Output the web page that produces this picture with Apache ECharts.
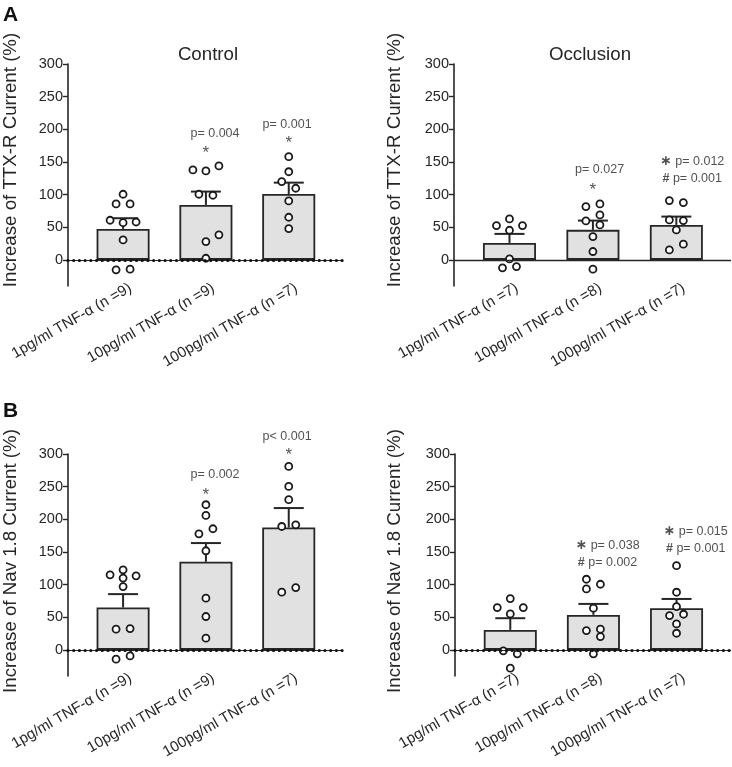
<!DOCTYPE html>
<html>
<head>
<meta charset="utf-8">
<script src="https://cdn.jsdelivr.net/npm/echarts@6/dist/echarts.min.js"></script>
<style>
html,body{margin:0;padding:0;background:#fff;}
#chart{width:732px;height:767px;}
</style>
</head>
<body>
<div id="chart"></div>
<script>
// ---------- data ----------
const catControl = ['1pg/ml TNF-α (n =9)', '10pg/ml TNF-α (n =9)', '100pg/ml TNF-α (n =7)'];
const catOcclusion = ['1pg/ml TNF-α (n =7)', '10pg/ml TNF-α (n =8)', '100pg/ml TNF-α (n =7)'];
const yTicks = [0, 50, 100, 150, 200, 250, 300];

// Panel A (TTX-R current)
const ttxControlMean = [47.4, 84.2, 101];
const ttxControlSem = [16.4, 20.4, 17.3];
const ttxControlPts = [
  [100.5, 85.7, 85.7, 60.7, 57, 58, 30.6, -15.3, -14.3],
  [137.8, 136.2, 143.9, 100.5, 99, 28, 38.3, 2.5],
  [158, 135, 120, 109.7, 90.3, 65.3, 48]
];
const ttxOcclMean = [26, 46, 53.6];
const ttxOcclSem = [13.8, 14.2, 12.7];
const ttxOcclPts = [
  [62.8, 52.5, 52.5, 45.4, 1.5, -12.2, -10.2],
  [81.6, 85.7, 68.9, 59.7, 53.6, 35.7, 12.8, -14.3],
  [90.8, 87.8, 61.2, 60.2, 45.9, 15.3, 24]
];
// Panel B (Nav 1.8 current)
const navControlMean = [64.9, 134.9, 187.5];
const navControlSem = [20.5, 28.7, 29.7];
const navControlPts = [
  [122.6, 115, 113.4, 109.9, 97, 31.7, 32.7, -14.3, -9.2],
  [222.3, 205.9, 177.8, 185.5, 151.8, 79.2, 51.1, 17.9],
  [281, 250.4, 230, 189, 191.6, 88.4, 95.5]
];
const navOcclMean = [30.6, 53.6, 63.8];
const navOcclSem = [17.9, 16.8, 14.2];
const navOcclPts = [
  [78.6, 64.8, 64.8, 55.1, -1.5, -6.1, -28],
  [108.2, 93.4, 100.5, 63.8, 29.5, 31.7, 20.4, -6.1],
  [129, 88.3, 66.3, 52.5, 54.6, 39.8, 25.5]
];

// ---------- layout (pixel jitter of points, annotation placement) ----------
const jitter = {
  ttxControl: [[0,-7,7,-13,0,13,0,-7,7],[-13,0,13,-7,7,0,13,0],[0,0,-7,7,0,0,0]],
  ttxOccl: [[0,-13,13,0,0,-7,7],[-7,7,7,-7,7,0,0,0],[-7,7,-7,7,0,-7,7]],
  navControl: [[0,-13,13,0,0,-7,7,-7,7],[0,0,-7,7,0,0,0,0],[0,0,0,-7,7,-7,7]],
  navOccl: [[0,-13,13,0,-7,7,0],[-7,-7,7,0,-7,7,7,0],[0,0,0,-7,7,0,0]]
};
const FONT = 'Liberation Sans, Arial, Helvetica, sans-serif';
const INK = '#262626';

const panels = [
  { cats: catControl, mean: ttxControlMean, sem: ttxControlSem, pts: ttxControlPts, jit: jitter.ttxControl,
    grid: {left: 68, top: 64, width: 275, height: 222}, dotted: true,
    notes: [
      {x: 2.11, y: 194, t: 'p= 0.004'}, {x: 2.0, y: 163, t: '{a|*}'},
      {x: 2.98, y: 208, t: 'p= 0.001'}, {x: 3.0, y: 179, t: '{a|*}'}
    ]},
  { cats: catOcclusion, mean: ttxOcclMean, sem: ttxOcclSem, pts: ttxOcclPts, jit: jitter.ttxOccl,
    grid: {left: 454, top: 64, width: 277, height: 222}, dotted: false,
    notes: [
      {x: 2.08, y: 138, t: 'p= 0.027'}, {x: 2.0, y: 107, t: '{a|*}'},
      {x: 3.19, y: 150.5, t: '{s|∗} p= 0.012'}, {x: 3.19, y: 125, t: '{h|#} p= 0.001'}
    ]},
  { cats: catControl, mean: navControlMean, sem: navControlSem, pts: navControlPts, jit: jitter.navControl,
    grid: {left: 68, top: 454, width: 275, height: 222}, dotted: true,
    notes: [
      {x: 2.11, y: 268, t: 'p= 0.002'}, {x: 2.0, y: 237, t: '{a|*}'},
      {x: 2.98, y: 326.5, t: 'p< 0.001'}, {x: 3.0, y: 298, t: '{a|*}'}
    ]},
  { cats: catOcclusion, mean: navOcclMean, sem: navOcclSem, pts: navOcclPts, jit: jitter.navOccl,
    grid: {left: 455, top: 454, width: 276, height: 222}, dotted: true,
    notes: [
      {x: 2.17, y: 159.6, t: '{s|∗} p= 0.038'}, {x: 2.17, y: 133.6, t: '{h|#} p= 0.002'},
      {x: 3.23, y: 182, t: '{s|∗} p= 0.015'}, {x: 3.23, y: 155.7, t: '{h|#} p= 0.001'}
    ]}
];

const grids = [], xAxes = [], yAxes = [], series = [];
panels.forEach((p, i) => {
  grids.push(Object.assign({containLabel: false}, p.grid));
  const cats = p.cats;
  xAxes.push({
    type: 'value', gridIndex: i, min: 0.335, max: 3.655,
    axisLine: {show: false, onZero: false}, axisTick: {show: false}, splitLine: {show: false},
    axisLabel: {
      customValues: [1.09, 2.09, 3.09], rotate: 30, margin: 1,
      fontSize: 15, color: INK, fontFamily: FONT,
      formatter: v => cats[Math.round(v) - 1]
    }
  });
  yAxes.push({
    type: 'value', gridIndex: i, min: -40, max: 300,
    axisLine: {show: true, onZero: false, lineStyle: {color: INK, width: 1.6}},
    axisTick: {show: true, customValues: yTicks, length: 5, lineStyle: {color: INK, width: 1.4}},
    axisLabel: {customValues: yTicks, fontSize: 14.5, color: INK, fontFamily: FONT, margin: 5},
    splitLine: {show: false}
  });
  // zero line
  const zeroLines = p.dotted ? [
      {yAxis: 0, lineStyle: {color: INK, width: 1, type: 'solid'}},
      {yAxis: 0, lineStyle: {color: '#111', width: 3.2, type: [0.01, 5.7], cap: 'round'}}
    ] : [
      {yAxis: 0, lineStyle: {color: INK, width: 1.4, type: 'solid'}}
    ];
  series.push({
    type: 'line', xAxisIndex: i, yAxisIndex: i, data: [], z: 1, silent: true,
    markLine: {symbol: ['none', 'none'], silent: true, animation: false, label: {show: false}, data: zeroLines}
  });
  // bars
  series.push({
    type: 'bar', xAxisIndex: i, yAxisIndex: i, barWidth: 53, z: 2,
    data: p.mean.map((m, k) => [k + 1, m]),
    itemStyle: {color: '#e1e1e1', borderColor: INK, borderWidth: 1.8}
  });
  // error bars
  series.push({
    type: 'custom', xAxisIndex: i, yAxisIndex: i, z: 3,
    data: p.mean.map((m, k) => [k + 1, m, p.sem[k]]),
    encode: {x: 0, y: 1},
    renderItem: (params, api) => {
      const x = api.value(0), m = api.value(1), s = api.value(2);
      const b = api.coord([x, m]), t = api.coord([x, m + s]);
      const st = {stroke: INK, lineWidth: 2};
      return {type: 'group', children: [
        {type: 'line', shape: {x1: b[0], y1: b[1], x2: t[0], y2: t[1]}, style: st},
        {type: 'line', shape: {x1: t[0] - 15, y1: t[1], x2: t[0] + 15, y2: t[1]}, style: st}
      ]};
    }
  });
  // individual points
  const pts = [];
  p.pts.forEach((arr, k) => arr.forEach((v, j) => {
    pts.push({value: [k + 1, v], symbolOffset: [p.jit[k][j] || 0, 0]});
  }));
  series.push({
    type: 'scatter', xAxisIndex: i, yAxisIndex: i, z: 4, clip: false,
    symbol: 'circle', symbolSize: 7,
    itemStyle: {color: '#fff', borderColor: '#1a1a1a', borderWidth: 1.8, opacity: 1},
    data: pts
  });
  // annotations
  series.push({
    type: 'scatter', xAxisIndex: i, yAxisIndex: i, z: 5, clip: false, silent: true,
    symbolSize: 0, itemStyle: {color: 'transparent'},
    label: {
      show: true, position: 'inside', align: 'center', verticalAlign: 'middle',
      fontSize: 12.5, color: INK, fontFamily: FONT,
      formatter: d => d.data.t,
      rich: {
        a: {fontSize: 17, color: INK, fontFamily: FONT},
        s: {fontSize: 14, color: INK, fontWeight: 'bold', fontFamily: 'DejaVu Sans'},
        h: {fontSize: 12.5, color: INK, fontWeight: 'bold', fontFamily: FONT}
      }
    },
    data: p.notes.map(n => ({value: [n.x, n.y], t: n.t}))
  });
});

const titleStyle = {fontSize: 18.7, fill: INK, fontFamily: FONT, align: 'center', verticalAlign: 'middle'};
const graphic = [
  {type: 'text', x: 3, y: 15, style: {text: 'A', fontSize: 21, fontWeight: 'bold', fill: '#111', fontFamily: FONT, verticalAlign: 'middle'}},
  {type: 'text', x: 3, y: 411, style: {text: 'B', fontSize: 21, fontWeight: 'bold', fill: '#111', fontFamily: FONT, verticalAlign: 'middle'}},
  {type: 'text', x: 208, y: 55, style: Object.assign({text: 'Control'}, titleStyle)},
  {type: 'text', x: 590, y: 55, style: Object.assign({text: 'Occlusion'}, titleStyle)},
  {type: 'text', x: 11, y: 160, rotation: Math.PI / 2, style: Object.assign({text: 'Increase of TTX-R Current (%)'}, titleStyle)},
  {type: 'text', x: 395, y: 160, rotation: Math.PI / 2, style: Object.assign({text: 'Increase of TTX-R Current (%)'}, titleStyle)},
  {type: 'text', x: 11, y: 561, rotation: Math.PI / 2, style: Object.assign({text: 'Increase of Nav 1.8 Current (%)'}, titleStyle)},
  {type: 'text', x: 395, y: 561, rotation: Math.PI / 2, style: Object.assign({text: 'Increase of Nav 1.8 Current (%)'}, titleStyle)}
];

const chart = echarts.init(document.getElementById('chart'), null, {renderer: 'canvas'});
chart.setOption({
  animation: false,
  backgroundColor: '#fff',
  grid: grids, xAxis: xAxes, yAxis: yAxes, series: series, graphic: graphic
});
</script>
</body>
</html>
